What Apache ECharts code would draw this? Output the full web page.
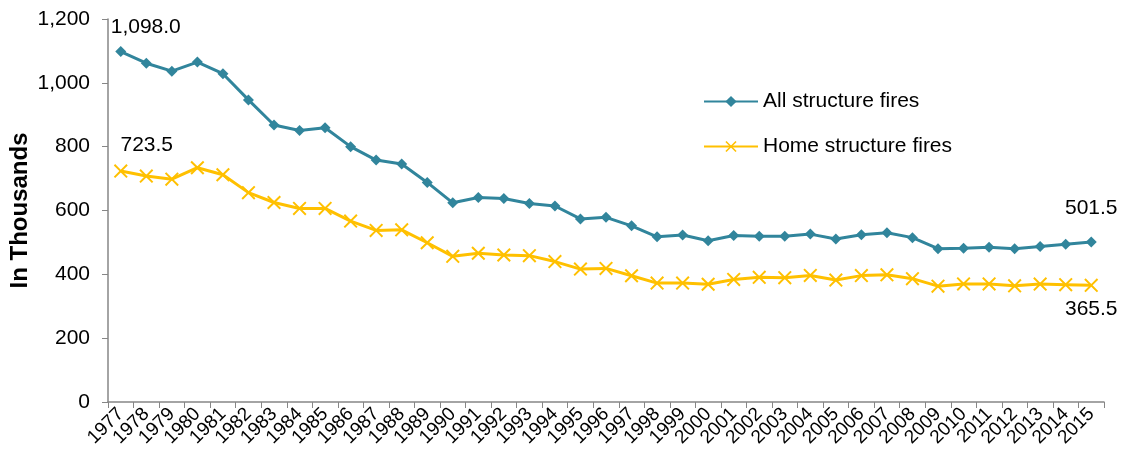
<!DOCTYPE html>
<html>
<head>
<meta charset="utf-8">
<script src="https://cdn.jsdelivr.net/npm/echarts@6/dist/echarts.min.js"></script>
<style>
  html, body { margin: 0; padding: 0; background: #fff; }
  #chart { width: 1133px; height: 460px; }
</style>
</head>
<body>
<div id="chart"></div>
<script>
  // years on the x axis
  var years = [];
  for (var y = 1977; y <= 2015; y++) years.push(String(y));

  // thousands of fires
  var allFires = [1098.0, 1061.5, 1036.5, 1065.0, 1028.5, 946.5, 868.0, 850.5, 859.5, 800.0,
    758.0, 745.5, 688.0, 624.0, 641.0, 637.5, 622.0, 614.0, 573.5, 578.5,
    552.0, 517.5, 523.0, 505.5, 521.5, 519.0, 519.5, 526.0, 511.0, 524.0,
    530.5, 515.0, 480.5, 482.0, 484.5, 480.5, 487.5, 494.0, 501.5];
  var homeFires = [723.5, 708.0, 698.0, 734.0, 712.0, 656.0, 625.0, 606.5, 606.5, 567.0,
    537.5, 539.5, 499.0, 456.5, 466.0, 460.5, 458.5, 440.0, 416.5, 418.5,
    395.5, 372.5, 372.5, 369.0, 384.0, 390.5, 389.5, 396.5, 382.0, 396.0,
    398.5, 386.5, 363.0, 370.0, 370.0, 364.0, 369.5, 367.5, 365.5];

  var yTicks = [0, 200, 400, 600, 800, 1000, 1200];

  var xMark = 'path://M0,1L1,0L5,4L9,0L10,1L6,5L10,9L9,10L5,6L1,10L0,9L4,5Z';

  function fmt(v) {
    return v.toLocaleString('en-US', { minimumFractionDigits: 1, maximumFractionDigits: 1 });
  }

  // only first and last points carry a value label
  function withLabels(arr, firstLbl, lastLbl) {
    return arr.map(function (v, i) {
      if (i === 0) return { value: v, label: firstLbl };
      if (i === arr.length - 1) return { value: v, label: lastLbl };
      return v;
    });
  }

  var lblBase = { show: true, color: '#000', fontSize: 21, fontFamily: 'Liberation Sans, Arial', formatter: function (p) { return fmt(p.value); } };

  var chart = echarts.init(document.getElementById('chart'));
  chart.setOption({
    animation: false,
    textStyle: { fontFamily: 'Liberation Sans, Arial' },
    grid: { left: 108, right: 29, top: 19, bottom: 58, containLabel: false, outerBoundsMode: 'none' },
    legend: {
      orient: 'vertical',
      left: 698,
      top: 86,
      itemWidth: 54,
      itemHeight: 14,
      itemGap: 24,
      textStyle: { fontSize: 21, color: '#000' },
      data: ['All structure fires', 'Home structure fires']
    },
    xAxis: {
      type: 'category',
      data: years,
      boundaryGap: true,
      axisLine: { lineStyle: { color: '#868686', width: 1.5 } },
      axisTick: { show: true, length: 6, lineStyle: { color: '#868686' } },
      axisLabel: { rotate: 45, interval: 0, fontSize: 19, color: '#000', margin: 9 }
    },
    yAxis: {
      type: 'value',
      min: yTicks[0],
      max: yTicks[yTicks.length - 1],
      interval: 200,
      name: 'In Thousands',
      nameLocation: 'middle',
      nameRotate: 90,
      nameGap: 76,
      nameMoveOverlap: false,
      nameTextStyle: { fontSize: 24, fontWeight: 'bold', color: '#000' },
      splitLine: { show: false },
      axisLine: { show: true, lineStyle: { color: '#868686', width: 1.5 } },
      axisTick: { show: true, length: 6, lineStyle: { color: '#868686' } },
      axisLabel: { fontSize: 21, color: '#000', margin: 18, formatter: function (v) { return v.toLocaleString('en-US'); } }
    },
    series: [
      {
        name: 'All structure fires',
        type: 'line',
        data: withLabels(allFires,
          Object.assign({}, lblBase, { position: 'top', distance: 8, offset: [25, 0] }),
          Object.assign({}, lblBase, { position: 'top', distance: 18 })),
        symbol: 'diamond',
        symbolSize: 11,
        color: '#31859C',
        lineStyle: { color: '#31859C', width: 3 },
        itemStyle: { color: '#31859C' },
        label: { show: false },
        z: 3
      },
      {
        name: 'Home structure fires',
        type: 'line',
        data: withLabels(homeFires,
          Object.assign({}, lblBase, { position: 'top', distance: 8, offset: [26, 0] }),
          Object.assign({}, lblBase, { position: 'bottom', distance: 6 })),
        symbol: xMark,
        symbolSize: 14,
        color: '#FFC000',
        lineStyle: { color: '#FFC000', width: 3 },
        itemStyle: { color: '#FFC000' },
        label: { show: false },
        z: 2
      }
    ]
  });
</script>
</body>
</html>
